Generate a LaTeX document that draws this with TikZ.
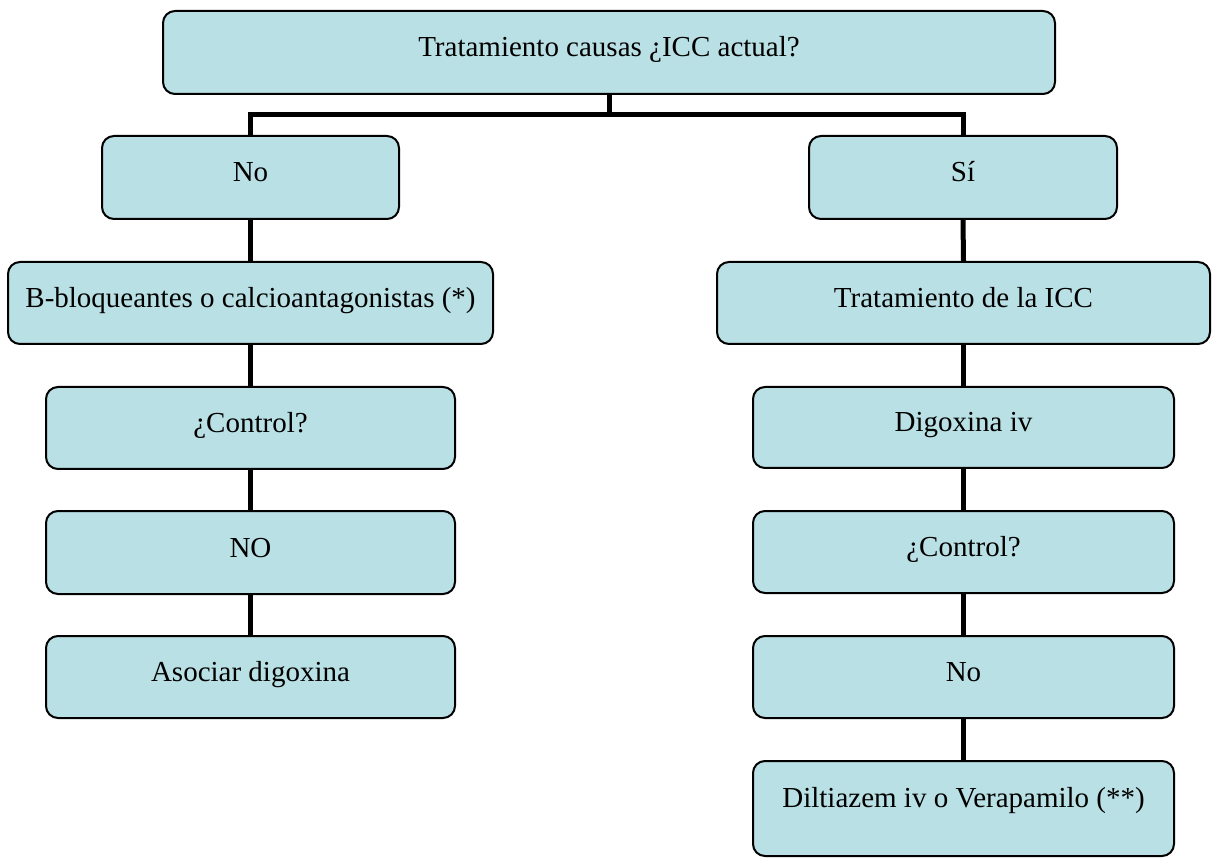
\documentclass[tikz,border=0pt]{standalone}
\usepackage{fontspec}
\setmainfont{Liberation Serif}
\definecolor{boxfill}{RGB}{185,224,228}
\begin{document}
\begin{tikzpicture}[x=1pt,y=-1pt,
  box/.style={draw=black, line width=2pt, fill=boxfill, rounded corners=12pt,
    inner sep=0pt, align=center, minimum height=83pt,
    font=\fontsize{29}{34}\selectfont, text height=20pt, text depth=11pt},
  conn/.style={draw=black, line width=5pt, line join=miter}]
\useasboundingbox (0,0) rectangle (1216,866);
% boxes
\node[box, minimum width=892pt] (top) at (609,52.5) {Tratamiento causas ¿ICC actual?};
\node[box, minimum width=297pt] (no) at (250.5,177.5) {No};
\node[box, minimum width=308pt] (si) at (963,177.5) {Sí};
\node[box, minimum width=485pt, minimum height=82pt] (beta) at (250.5,303) {B-bloqueantes o calcioantagonistas (*)};
\node[box, minimum width=493pt, minimum height=82pt] (trat) at (963.5,303) {Tratamiento de la ICC};
\node[box, minimum width=409pt, minimum height=82pt] (ctrlL) at (250.5,428) {¿Control?};
\node[box, minimum width=409pt] (noL) at (250.5,552.5) {NO};
\node[box, minimum width=409pt, minimum height=82pt] (asoc) at (250.5,677) {Asociar digoxina};
\node[box, minimum width=421pt, minimum height=81pt] (digo) at (963.5,427.5) {Digoxina iv};
\node[box, minimum width=421pt, minimum height=82pt] (ctrlR) at (963.5,552) {¿Control?};
\node[box, minimum width=421pt, minimum height=82pt] (noR) at (963.5,677) {No};
\node[box, minimum width=421pt, minimum height=95pt, text height=14pt, text depth=17pt] (dilt) at (963.5,808.5) {Diltiazem iv o Verapamilo (**)};
% connectors
\coordinate (bus) at (0,115);
\draw[conn] (top.south) -- (top.south |- bus);
\draw[conn] (no.north) -- (no.north |- bus) -| (si.north);
\draw[conn] (no.south) -- (beta.north);
\draw[conn] (beta.south) -- (ctrlL.north);
\draw[conn] (ctrlL.south) -- (noL.north);
\draw[conn] (noL.south) -- (asoc.north);
\draw[conn] (si.south) -- (trat.north);
\draw[conn] (trat.south) -- (digo.north);
\draw[conn] (digo.south) -- (ctrlR.north);
\draw[conn] (ctrlR.south) -- (noR.north);
\draw[conn] (noR.south) -- (dilt.north);
\end{tikzpicture}
\end{document}
